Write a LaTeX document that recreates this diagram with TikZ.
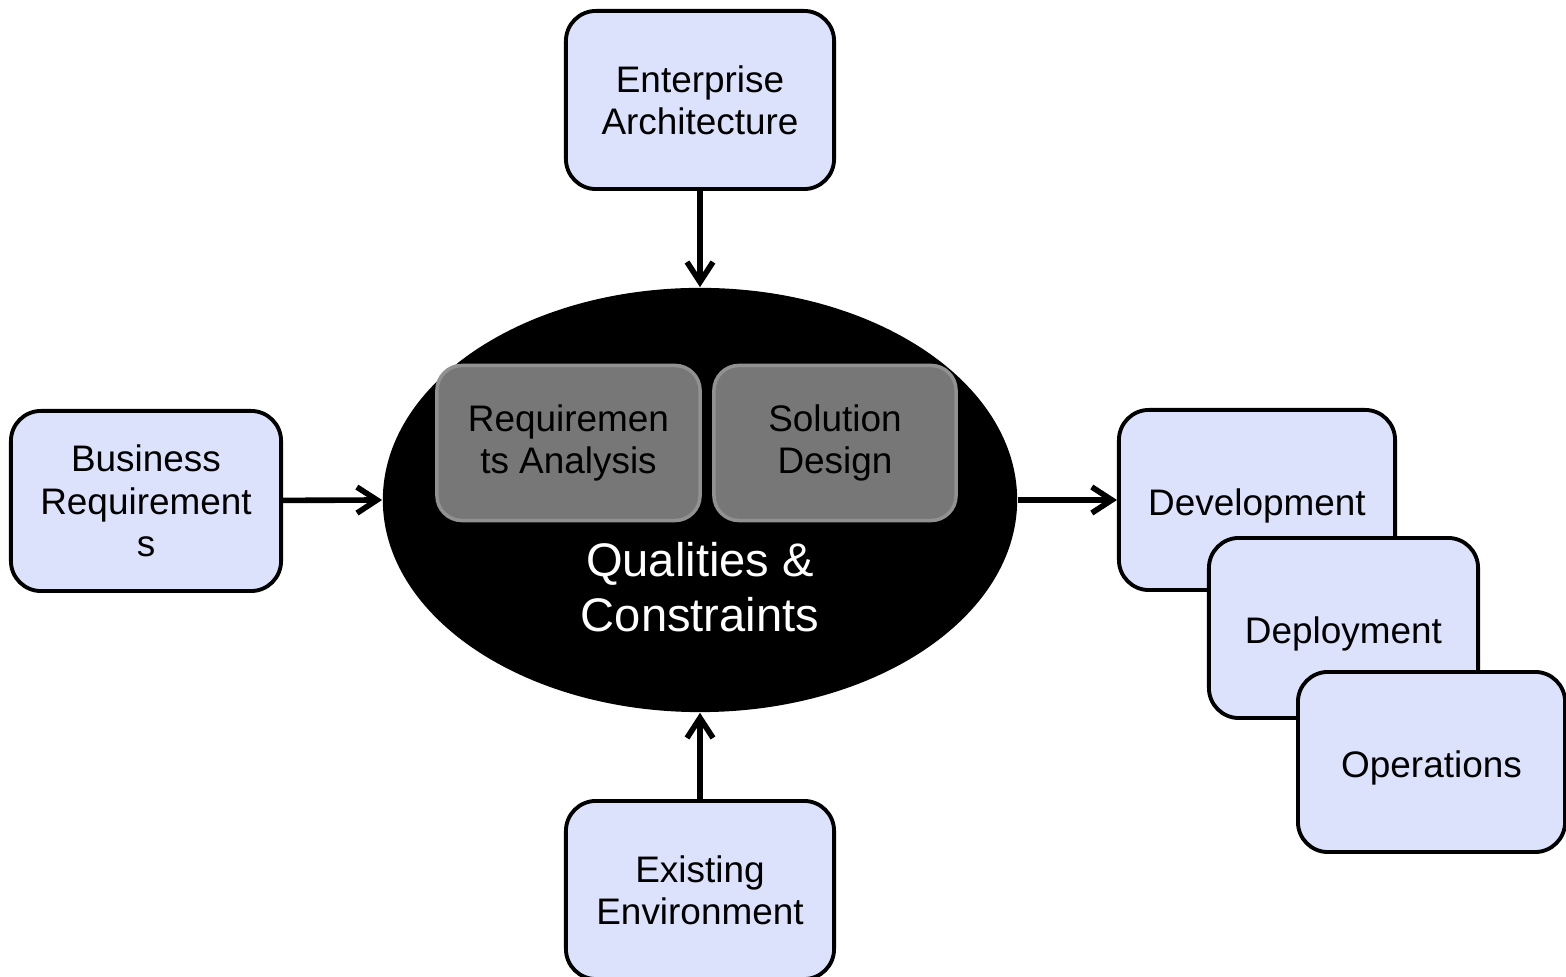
\documentclass[tikz,border=0pt]{standalone}
\usepackage{fontspec}
\setmainfont{Liberation Sans}
\usetikzlibrary{shapes.geometric,arrows.meta}
\definecolor{boxblue}{RGB}{221,226,252}
\definecolor{innergray}{RGB}{119,119,119}
\definecolor{innerline}{RGB}{145,145,145}
\tikzset{
  stagebox/.style={draw=black,line width=1.1pt,fill=boxblue,rounded corners=0.3cm,
    minimum width=2.68cm,minimum height=1.78cm,align=center,
    font=\fontsize{10.5}{12}\selectfont},
  oneline/.style={text height=8.8pt,text depth=0pt},
  innerbox/.style={draw=innerline,line width=1pt,fill=innergray,rounded corners=0.25cm,
    minimum height=1.55cm,align=center,font=\fontsize{10.5}{12}\selectfont},
  flow/.style={line width=1.6pt,-{Straight Barb[length=2mm,width=2.6mm,line width=1.6pt]}}
}
\begin{document}
\begin{tikzpicture}[x=0.01cm,y=-0.01cm]
   \useasboundingbox (0,0) rectangle (1566,977);
   % centre
   \node[ellipse,fill=black,minimum width=6.34cm,minimum height=4.24cm,inner sep=0pt]
     (core) at (700,500) {};
   \node[innerbox,minimum width=2.63cm] (req) at (568.5,443) {Requiremen\\ts Analysis};
   \node[innerbox,minimum width=2.42cm] (sol) at (835,443) {Solution\\Design};
   \node[text=white,align=center,font=\fontsize{13.4}{15.6}\selectfont]
     (qual) at (700,587) {Qualities \&\\Constraints};
   % inputs
   \node[stagebox] (ea) at (700,100) {Enterprise\\Architecture};
   \node[stagebox,minimum width=2.70cm,minimum height=1.80cm] (biz) at (146,501)
     {Business\\Requirement\\s};
   \node[stagebox] (env) at (700,890) {Existing\\Environment};
   % outputs
   \node[stagebox,oneline,minimum width=2.76cm,minimum height=1.80cm] (dev) at (1257,500) {Development};
   \node[stagebox,oneline,minimum width=2.69cm,minimum height=1.80cm] (dep) at (1343.5,628) {Deployment};
   \node[stagebox,oneline,minimum width=2.67cm,minimum height=1.80cm] (ops) at (1431.5,762) {Operations};
   % arrows
   \draw[flow] (ea) -- (core.north);
   \draw[flow] (biz) -- (core.west);
   \draw[flow] (env) -- (core.south);
   \draw[flow] (core.east) -- (dev.west);
\end{tikzpicture}
\end{document}
